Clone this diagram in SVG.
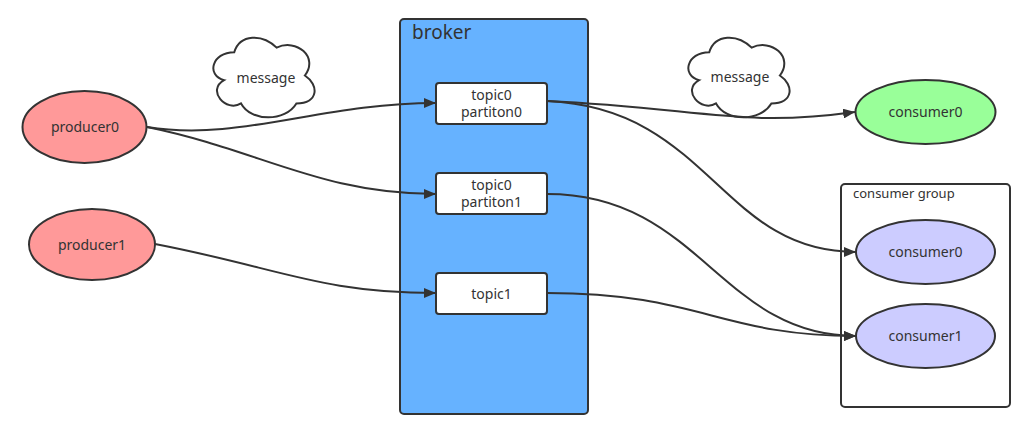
<svg xmlns="http://www.w3.org/2000/svg" width="1033" height="423" viewBox="0 0 1033 423">
<style>
.t{font-family:"Noto Sans","Open Sans",sans-serif;font-size:14px;fill:#333;text-anchor:middle}
.s{stroke:#333;stroke-width:2}
.c{fill:none;stroke:#333;stroke-width:2}
</style>
<defs>
<marker id="ah" viewBox="0 0 12 10" refX="12" refY="5" markerWidth="12" markerHeight="10" markerUnits="userSpaceOnUse" orient="auto">
<path d="M0,0 L12,5 L0,10 Z" fill="#333"/>
</marker>
</defs>
<rect width="1033" height="423" fill="#fff"/>
<g id="broker">
<rect x="400" y="19" width="188" height="395" rx="4" fill="#66B2FF" class="s"/>
<text x="412" y="39" style="font-family:'Noto Sans','Open Sans',sans-serif;font-size:19px;fill:#333">broker</text>
</g>
<g id="consumer-group">
<rect x="841" y="184" width="169" height="223" rx="4" fill="#fff" class="s"/>
<text x="853" y="198" style="font-family:'Noto Sans','Open Sans',sans-serif;font-size:13px;fill:#333">consumer group</text>
</g>
<g id="cloud1">
<path d="M234.25,52.25 C211.65,52.25 206,75.5 224.08,80.15 C206,90.38 226.34,112.7 241.03,103.4 C251.2,122 285.1,122 296.4,103.4 C319,103.4 319,84.8 304.88,75.5 C319,56.9 296.4,38.3 276.63,47.6 C262.5,33.65 239.9,33.65 234.25,52.25 Z" fill="#fff" class="s"/>
<text x="266" y="83" class="t">message</text>
</g>
<g id="cloud2">
<path transform="translate(475,0)" d="M234.25,52.25 C211.65,52.25 206,75.5 224.08,80.15 C206,90.38 226.34,112.7 241.03,103.4 C251.2,122 285.1,122 296.4,103.4 C319,103.4 319,84.8 304.88,75.5 C319,56.9 296.4,38.3 276.63,47.6 C262.5,33.65 239.9,33.65 234.25,52.25 Z" fill="#fff" class="s"/>
<text x="740" y="82" class="t">message</text>
</g>
<g id="connectors">
<path class="c" marker-end="url(#ah)" d="M147,127 C240,142 320,103 436,103"/>
<path class="c" marker-end="url(#ah)" d="M147,127 C260,150 320,194 436,194"/>
<path class="c" marker-end="url(#ah)" d="M155,244 C280,268 320,293 436,293"/>
<path class="c" marker-end="url(#ah)" d="M547,101 C700,108 740,128 855,112"/>
<path class="c" marker-end="url(#ah)" d="M547,101 C710,108 720,252 856,252"/>
<path class="c" marker-end="url(#ah)" d="M547,194 C700,194 720,336 856,336"/>
<path class="c" marker-end="url(#ah)" d="M547,293 C700,293 720,336 856,336"/>
</g>
<g id="producer0">
<ellipse cx="84.5" cy="127" rx="62" ry="36" fill="#FF9999" class="s"/>
<text x="85" y="132" class="t">producer0</text>
</g>
<g id="producer1">
<ellipse cx="92" cy="244.5" rx="63" ry="35.5" fill="#FF9999" class="s"/>
<text x="92" y="250" class="t">producer1</text>
</g>
<g id="topic0p0">
<rect x="436" y="83" width="111" height="41" rx="3" fill="#fff" class="s"/>
<text x="491.5" y="100" class="t">topic0</text>
<text x="491.5" y="117" class="t">partiton0</text>
</g>
<g id="topic0p1">
<rect x="436" y="173" width="111" height="41" rx="3" fill="#fff" class="s"/>
<text x="491.5" y="190" class="t">topic0</text>
<text x="491.5" y="207" class="t">partiton1</text>
</g>
<g id="topic1">
<rect x="436" y="273" width="111" height="41" rx="3" fill="#fff" class="s"/>
<text x="491.5" y="299" class="t">topic1</text>
</g>
<g id="consumer0">
<ellipse cx="925.5" cy="112" rx="70" ry="32" fill="#99FF99" class="s"/>
<text x="925.5" y="117" class="t">consumer0</text>
</g>
<g id="group-consumer0">
<ellipse cx="925.5" cy="252" rx="69.5" ry="32" fill="#CCCCFF" class="s"/>
<text x="925.5" y="257" class="t">consumer0</text>
</g>
<g id="group-consumer1">
<ellipse cx="925.5" cy="336" rx="69.5" ry="32" fill="#CCCCFF" class="s"/>
<text x="925.5" y="341" class="t">consumer1</text>
</g>
</svg>
